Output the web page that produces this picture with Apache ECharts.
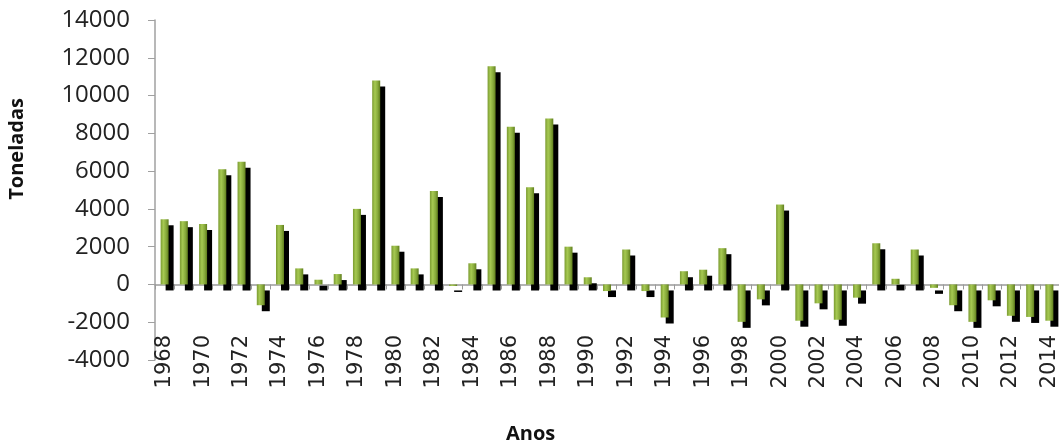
<!DOCTYPE html>
<html>
<head>
<meta charset="utf-8">
<script src="https://cdn.jsdelivr.net/npm/echarts@6/dist/echarts.min.js"></script>
<style>html,body{margin:0;padding:0;background:#fff;}#c{width:1059px;height:446px;}</style>
</head>
<body>
<div id="c"></div>
<script>
const years = ['1968','1969','1970','1971','1972','1973','1974','1975','1976','1977','1978','1979','1980','1981','1982','1983','1984','1985','1986','1987','1988','1989','1990','1991','1992','1993','1994','1995','1996','1997','1998','1999','2000','2001','2002','2003','2004','2005','2006','2007','2008','2009','2010','2011','2012','2013','2014'];
const values = [3450,3350,3200,6100,6500,-1100,3150,850,250,550,4000,10800,2050,850,4950,-80,1120,11550,8350,5150,8780,2000,380,-350,1850,-350,-1750,700,780,1920,-1980,-790,4230,-1920,-1000,-1870,-700,2180,300,1850,-180,-1100,-1980,-840,-1660,-1720,-1920];
const yMin = -4000, yMax = 14000, yStep = 2000;
const yTitle = 'Toneladas';
const xTitle = 'Anos';

const chart = echarts.init(document.getElementById('c'), null, {renderer: 'canvas'});
chart.setOption({
  animation: false,
  backgroundColor: '#ffffff',
  grid: {left: 155, right: 0, top: 20, bottom: 86, containLabel: false, outerBoundsMode: 'none'},
  xAxis: [{
    type: 'category',
    data: years,
    axisLine: {onZero: true, lineStyle: {color: '#9a9a9a', width: 1.5}},
    axisTick: {show: true, interval: 0, length: 5, lineStyle: {color: '#9a9a9a'}},
    axisLabel: {show: false},
    splitLine: {show: false}
  }, {
    type: 'category',
    data: years,
    position: 'bottom',
    axisLine: {show: false, onZero: false},
    axisTick: {show: false},
    axisLabel: {interval: 1, rotate: 90, margin: -25, hideOverlap: false, fontFamily: 'DejaVu Sans', fontSize: 21, color: '#222'},
    splitLine: {show: false}
  }],
  yAxis: {
    type: 'value',
    min: yMin, max: yMax, interval: yStep,
    axisLine: {show: true, lineStyle: {color: '#a0a0a0', width: 1.5}},
    axisTick: {show: true, length: 7, lineStyle: {color: '#a0a0a0'}},
    axisLabel: {margin: 25, fontFamily: 'Open Sans', fontSize: 24, color: '#222', formatter: function (v) { return String(v); }},
    splitLine: {show: false}
  },
  graphic: [
    {type: 'text', left: 7, top: 98, rotation: Math.PI / 2,
      style: {text: yTitle, font: 'bold 20px "Open Sans"', fill: '#111'}},
    {type: 'text', left: 506, top: 424,
      style: {text: xTitle, font: 'bold 20px "Open Sans"', fill: '#111'}}
  ],
  series: [{
    type: 'bar',
    data: values,
    xAxisIndex: 0,
    barWidth: 8,
    itemStyle: {
      color: new echarts.graphic.LinearGradient(0, 0, 1, 0, [
        {offset: 0, color: '#7b9b31'},
        {offset: 0.35, color: '#a6c952'},
        {offset: 0.7, color: '#87a93b'},
        {offset: 1, color: '#5f7d1c'}
      ]),
      shadowColor: '#000000',
      shadowBlur: 0,
      shadowOffsetX: 5,
      shadowOffsetY: 6
    }
  }]
});
</script>
</body>
</html>
